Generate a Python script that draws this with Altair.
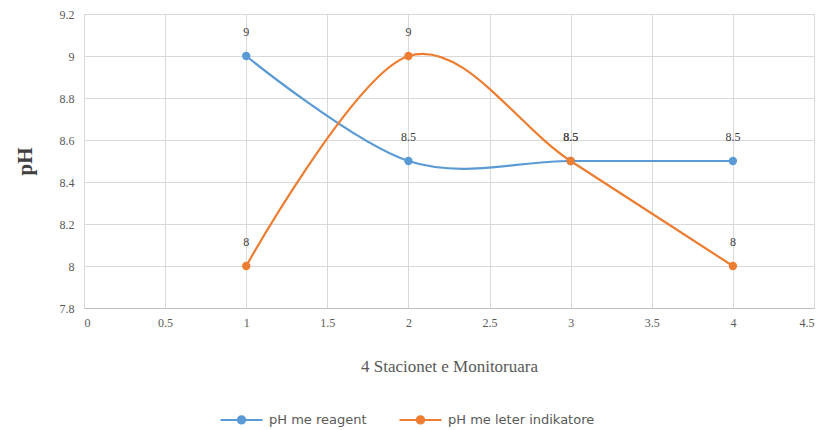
import altair as alt
import pandas as pd

stations = [1, 2, 3, 4]
ph_reagent = [9.0, 8.5, 8.5, 8.5]
ph_indicator = [8.0, 9.0, 8.5, 8.0]
series_names = ["pH me reagent", "pH me leter indikatore"]
series_colors = ["#5B9BD5", "#ED7D31"]

rows = []
for name, vals in zip(series_names, [ph_reagent, ph_indicator]):
    for s, v in zip(stations, vals):
        rows.append({"station": s, "ph": v, "series": name, "label": f"{v:g}"})
df = pd.DataFrame(rows)

serif = "Liberation Serif"

x_enc = alt.X(
    "station:Q",
    scale=alt.Scale(domain=[0, 4.5], nice=False),
    axis=alt.Axis(
        values=[0, 0.5, 1, 1.5, 2, 2.5, 3, 3.5, 4, 4.5],
        format="~g",
        title="4 Stacionet e Monitoruara",
        titleFont=serif, titleFontSize=17, titleFontWeight="normal",
        titleColor="#595959", titlePadding=30,
        labelFont=serif, labelFontSize=12, labelColor="#595959",
        labelPadding=9, ticks=False, domain=True, domainColor="#bfbfbf",
        grid=True, gridColor="#d9d9d9",
    ),
)
y_enc = alt.Y(
    "ph:Q",
    scale=alt.Scale(domain=[7.8, 9.2], nice=False, zero=False),
    axis=alt.Axis(
        values=[7.8, 8.0, 8.2, 8.4, 8.6, 8.8, 9.0, 9.2],
        format="~g",
        title="pH",
        titleFont=serif, titleFontSize=21, titleFontWeight="bold",
        titleColor="#404040", titlePadding=24,
        labelFont=serif, labelFontSize=12, labelColor="#595959",
        labelPadding=10, ticks=False, domain=False,
        grid=True, gridColor="#d9d9d9",
    ),
)
color_enc = alt.Color(
    "series:N",
    scale=alt.Scale(domain=series_names, range=series_colors),
    legend=alt.Legend(
        title=None, orient="none", direction="horizontal",
        legendX=143, legendY=391,
        symbolType="M-1.6,0L1.6,0M-0.28,0A0.28,0.28,0,1,0,0.28,0A0.28,0.28,0,1,0,-0.28,0",
        symbolSize=690, symbolStrokeWidth=2,
        labelFont="DejaVu Sans", labelFontSize=13, labelColor="#595959",
        labelOffset=13, columnPadding=28,
    ),
)

base = alt.Chart(df)

lines = base.mark_line(interpolate="cardinal", tension=0, strokeWidth=2.2).encode(
    x=x_enc, y=y_enc, color=color_enc
)
points = base.mark_circle(size=70, opacity=1).encode(
    x="station:Q", y="ph:Q", color=alt.Color("series:N", legend=None,
        scale=alt.Scale(domain=series_names, range=series_colors))
)
labels = base.mark_text(dy=-24, font=serif, fontSize=12, color="#404040").encode(
    x="station:Q", y="ph:Q", text="label:N"
)

chart = (
    alt.layer(lines, points, labels)
    .properties(
        width=730, height=294,
        autosize=alt.AutoSizeParams(type="none"),
        padding={"left": 84, "top": 14, "right": 21, "bottom": 122},
    )
    .configure_view(stroke=None)
    .configure(background="white")
)

chart.save("out.html", embed_options={"renderer": "svg", "actions": False})
